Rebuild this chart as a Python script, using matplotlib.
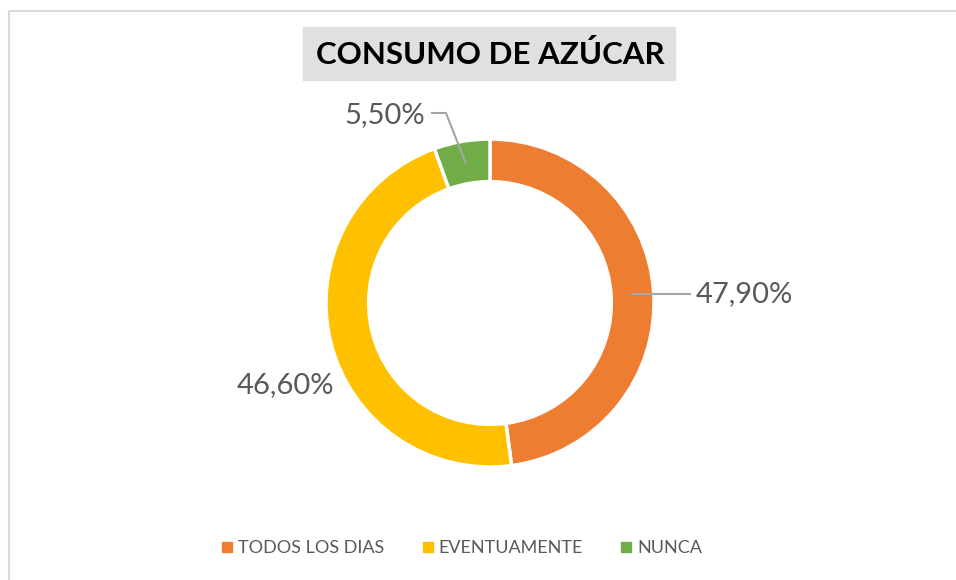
import matplotlib.pyplot as plt
from matplotlib.patches import Rectangle
from matplotlib.lines import Line2D
import numpy as np

# datos del grafico
categorias = ['TODOS LOS DIAS', 'EVENTUAMENTE', 'NUNCA']
porcentajes = [47.9, 46.6, 5.5]
colores = ['#ED7D31', '#FFC000', '#70AD47']
titulo = 'CONSUMO DE AZÚCAR'

plt.rcParams['font.family'] = ['Lato', 'DejaVu Sans']
W, H = 956, 580
fig = plt.figure(figsize=(W / 100, H / 100), dpi=100)
ax = fig.add_axes([0, 0, 1, 1])

def py(y):
    # pixel desde arriba -> coordenada de datos
    return H - y

cx, cy, r = 490, py(303), 164
wedges, _ = ax.pie(porcentajes, colors=colores, startangle=90, counterclock=False,
                   center=(cx, cy), radius=r, frame=True,
                   wedgeprops=dict(width=r * 0.26, edgecolor='white', linewidth=2.5))
ax.set_xlim(0, W)
ax.set_ylim(0, H)
ax.set_aspect('equal')
ax.axis('off')

gris = '#595959'
rm = r * 0.87
etiquetas = [f'{p:.2f}%'.replace('.', ',') for p in porcentajes]

# TODOS LOS DIAS
w = wedges[0]
a = np.deg2rad((w.theta1 + w.theta2) / 2)
x0, y0 = cx + rm * np.cos(a), cy + rm * np.sin(a)
ax.plot([x0, 690], [y0, y0], color='#A6A6A6', lw=1.5)
ax.text(696, y0, etiquetas[0], fontsize=21, color=gris, va='center', ha='left')

# EVENTUAMENTE
ax.text(285, py(385), etiquetas[1], fontsize=21, color=gris, va='center', ha='center')

# NUNCA
w = wedges[2]
a = np.deg2rad((w.theta1 + w.theta2) / 2)
x0, y0 = cx + rm * np.cos(a), cy + rm * np.sin(a)
ax.plot([x0, 446, 432], [y0, py(113), py(113)], color='#A6A6A6', lw=1.5)
ax.text(425, py(115), etiquetas[2], fontsize=21, color=gris, va='center', ha='right')

# titulo con fondo gris
ax.add_patch(Rectangle((303, py(80)), 372, 53, color='#E0E0E0', zorder=0))
ax.text(490, py(55), titulo, fontsize=22.5, fontweight='bold', color='black',
        ha='center', va='center')

# borde del area del grafico
ax.plot([9, 9, W + 5], [-5, py(11), py(11)], color='#D9D9D9', lw=1.5, clip_on=False)

# leyenda
handles = [Line2D([], [], marker='s', color=c, linestyle='none', markersize=7.5) for c in colores]
fig.legend(handles, categorias, loc='center', bbox_to_anchor=(461 / W, 1 - 548 / H),
           ncol=3, frameon=False, fontsize=13, labelcolor=gris,
           handletextpad=0.2, columnspacing=2.0, handlelength=0.8)

fig.savefig('out.png', dpi=100)
